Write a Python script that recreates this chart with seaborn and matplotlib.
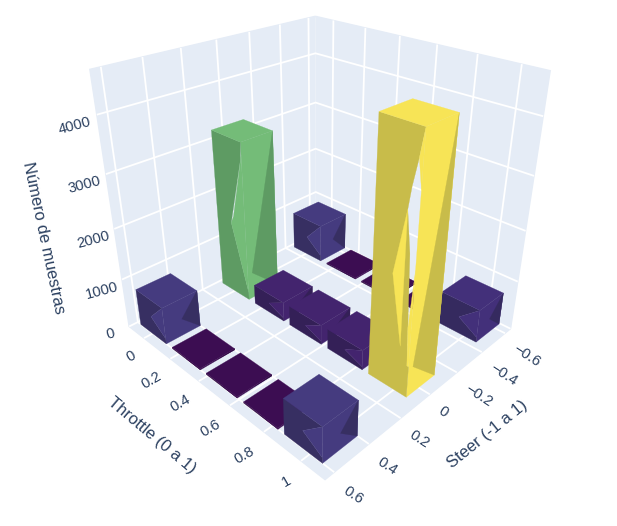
import numpy as np
import matplotlib
matplotlib.use("Agg")
import matplotlib.pyplot as plt
import seaborn as sns
from mpl_toolkits.mplot3d.art3d import Poly3DCollection

# ---- data ----
steer_values = [-0.545, -0.015, 0.5]
throttle_values = [0.0, 0.245, 0.485, 0.725, 0.96]
counts_steer_neg = [810, 25, 25, 25, 670]
counts_steer_zero = [3200, 400, 400, 400, 4520]
counts_steer_pos = [750, 25, 25, 25, 690]
steer_ticks = [-0.6, -0.4, -0.2, 0, 0.2, 0.4, 0.6]
steer_ticklabels = ["\u22120.6", "\u22120.4", "\u22120.2", "0", "0.2", "0.4", "0.6"]
throttle_ticks = [0, 0.2, 0.4, 0.6, 0.8, 1]
throttle_ticklabels = ["0", "0.2", "0.4", "0.6", "0.8", "1"]
count_ticks = [0, 1000, 2000, 3000, 4000]
count_ticklabels = ["0", "1000", "2000", "3000", "4000"]

INK = "#2a3f5f"
PANE = "#E5ECF6"
BAR_W_STEER = 0.10
BAR_W_THROTTLE = 0.10

def shades(v):
    if v > 4000:
        return "#F7E456", "#C8BC4A"
    if v > 2000:
        return "#74BC78", "#5E9B63"
    if v > 680:
        return "#453B7F", "#372F62"
    if v > 450:
        return "#43307A", "#352A5F"
    if v > 100:
        return "#43246E", "#342057"
    return "#3C0D52", "#300B42"

CUBE = dict(
    left_dark=[(0, 0), (1, 0), (1, .15), (.5, .5), (1, 1), (0, 1)],
    left_light=[[(1, 1), (.5, .5), (1, .15)]],
    right_dark=[(1, 1), (1, 0), (.5, .45)],
)
GREEN = dict(
    left_dark=[(0, 0), (1, 0), (1, .05), (.5, .47), (.97, .9), (1, 1), (0, 1)],
    left_light=[[(.5, .47), (1, .05), (1, .8), (.995, .92), (.6, .52)]],
    right_dark=[(1, 1), (1, 0), (.15, .17)],
)
YELLOW = dict(
    left_dark=[(0, 0), (1, 0), (1, .135), (.96, .135), (.92, .29), (.85, .57),
               (.74, .72), (.80, .80), (.91, .90), (1, 1), (0, 1)],
    left_light=[[(1, 1), (.91, .90), (1, .8)],
                [(.74, .72), (.49, .47), (.77, .2)],
                [(.92, .29), (1, .52), (1, .135), (.96, .135)]],
    right_dark=[(1, 1), (1, 0), (.16, .12)],
)


def template(v):
    if v > 4000:
        return YELLOW
    if v > 2000:
        return GREEN
    return CUBE


def draw_bar(ax, s, t, h, zo):
    light, dark = shades(h)
    x0, x1 = s - BAR_W_STEER, s + BAR_W_STEER
    y0, y1 = t - BAR_W_THROTTLE, t + BAR_W_THROTTLE
    tpl = template(h)

    def left(uv):
        return [(x1, y0 + u * (y1 - y0), w * h) for u, w in uv]

    def right(uv):
        return [(x1 + u * (x0 - x1), y1, w * h) for u, w in uv]

    polys, cols = [], []
    polys.append(right([(0, 0), (1, 0), (1, 1), (0, 1)]))
    cols.append(light)
    polys.append(right(tpl["right_dark"]))
    cols.append(dark)
    polys.append(left(tpl["left_dark"]))
    cols.append(dark)
    for p in tpl["left_light"]:
        polys.append(left(p))
        cols.append(light)
    polys.append([(x0, y0, h), (x1, y0, h), (x1, y1, h), (x0, y1, h)])
    cols.append(light)
    for i, (p, c) in enumerate(zip(polys, cols)):
        pc = Poly3DCollection([p], facecolors=[c], edgecolors=[c], linewidths=0.2)
        pc.set_zorder(zo + i * 0.01)
        ax.add_collection3d(pc)


sns.set_theme(style="white")
plt.rcParams["font.family"] = ["Liberation Sans", "DejaVu Sans"]

fig = plt.figure(figsize=(6.17, 5.26), dpi=100, facecolor="white")
ax = fig.add_axes([3.8 / 617, 45 / 526, 1, 1], projection="3d", computed_zorder=False)
ax.patch.set_alpha(0)
ax.set_proj_type("persp", focal_length=0.255)
ax.view_init(elev=28.065, azim=44.627)
ax.set_box_aspect((1, 1.033, 0.997), zoom=0.937)

ax.set_xlim(-0.65, 0.65)
ax.set_ylim(-0.12, 1.12)
ax.set_zlim(0, 4710)

rows = [(steer_values[0], counts_steer_neg), (steer_values[1], counts_steer_zero),
        (steer_values[2], counts_steer_pos)]
items = [(s, t, c) for s, vals in rows for t, c in zip(throttle_values, vals)]
items.sort(key=lambda it: it[0] / 1.3 + it[1] / 1.24)
for k, (s, t, c) in enumerate(items):
    draw_bar(ax, s, t, c, 5 + k)

ax.set_xticks(steer_ticks)
ax.set_xticklabels(steer_ticklabels)
ax.set_yticks(throttle_ticks)
ax.set_yticklabels(throttle_ticklabels)
ax.set_zticks(count_ticks)
ax.set_zticklabels(count_ticklabels)

for axis in (ax.xaxis, ax.yaxis, ax.zaxis):
    axis.set_pane_color(PANE)
    axis.pane.set_edgecolor(PANE)
    axis.line.set_color((1, 1, 1, 0))
    axis._axinfo["grid"].update(color="white", linewidth=1.3)
    axis._axinfo["tick"].update(inward_factor=0, outward_factor=0)
    for tl in axis.get_ticklabels():
        tl.set_color(INK)
        tl.set_fontsize(10.6)

ax.tick_params(axis="x", pad=-3, colors=INK)
ax.tick_params(axis="y", pad=-2, colors=INK)
ax.tick_params(axis="z", pad=2, colors=INK)
ax.zaxis.set_ticks_position("lower")
ax.grid(True)

for tl in ax.xaxis.get_ticklabels():
    tl.set_rotation(-33)
    tl.set_horizontalalignment("left")
for tl in ax.yaxis.get_ticklabels():
    tl.set_rotation(30)
    tl.set_horizontalalignment("right")
for tl in ax.zaxis.get_ticklabels():
    tl.set_rotation(15)

fig.text(487 / 617, 1 - 434 / 526, "Steer (-1 a 1)", color=INK, fontsize=12, rotation=39,
         ha="center", va="center")
fig.text(152 / 617, 1 - 435 / 526, "Throttle (0 a 1)", color=INK, fontsize=12, rotation=-40,
         ha="center", va="center")
fig.text(44 / 617, 1 - 238 / 526, "N\u00famero de muestras", color=INK, fontsize=11.9, rotation=-78,
         ha="center", va="center")

fig.savefig("out.png", dpi=100)
